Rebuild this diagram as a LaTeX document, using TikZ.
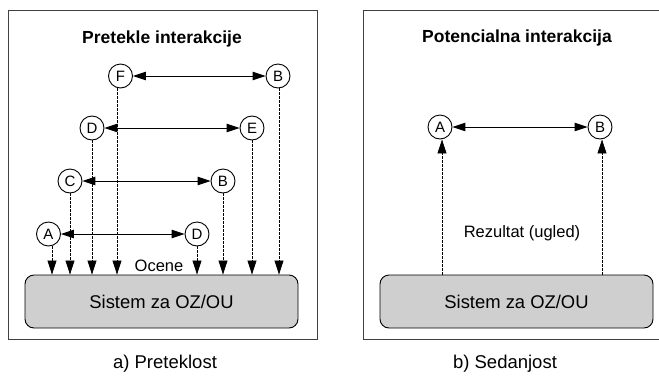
\documentclass[tikz,border=0pt]{standalone}
\usepackage{fontspec}
\setmainfont{Liberation Sans}
\usetikzlibrary{arrows.meta}
\begin{document}
\begin{tikzpicture}[x=1pt,y=-1pt,
  every node/.style={inner sep=0pt},
  agent/.style={circle,draw,line width=0.9pt,minimum size=24pt,fill=white,
    font=\fontsize{15}{15}\selectfont},
  link/.style={line width=1pt,
    {Triangle[length=13pt,width=8.5pt]}-{Triangle[length=13pt,width=8.5pt]}},
  rating/.style={dash pattern=on 2.5pt off 1.5pt,line width=0.75pt,
    -{Triangle[length=14pt,width=9pt]}},
  frame/.style={draw=black!75,line width=1pt},
  sysbox/.style={draw,line width=0.9pt,rounded corners=9pt,fill=black!19,
    minimum width=273pt,minimum height=53pt,
    font=\fontsize{18.4}{20}\selectfont},
  title/.style={anchor=base,font=\fontsize{17.5}{20}\selectfont\bfseries},
  caption/.style={anchor=base,font=\fontsize{18.5}{20}\selectfont},
  note/.style={anchor=base,font=\fontsize{16.5}{20}\selectfont}
]
\useasboundingbox (0,0) rectangle (659,376);
\clip (0,0) rectangle (659,376);

% ---------- a) past interactions ----------
\draw[frame] (8,10) rectangle (317,339);
\node[title] (tL) at (162,43) {Pretekle interakcije};
\node[sysbox] (sysL) at (161.5,301.5) {Sistem za OZ/OU};

\node[agent] (F)  at (120.5,76) {F};
\node[agent] (B1) at (278,76)   {B};
\node[agent] (D1) at (92,128)   {D};
\node[agent] (E)  at (252,128)  {E};
\node[agent] (C)  at (70,181)   {C};
\node[agent] (B2) at (223,181)  {B};
\node[agent] (A)  at (48.5,234) {A};
\node[agent] (D2) at (197,234)  {D};

\draw[link] (F)  -- (B1);
\draw[link] (D1) -- (E);
\draw[link] (C)  -- (B2);
\draw[link] (A)  -- (D2);

\draw[rating] ([xshift=3.5pt]A.south)  -- ([xshift=3.5pt]A.south |- sysL.north);
\draw[rating] (C.south)  -- (C.south |- sysL.north);
\draw[rating] (D1.south) -- (D1.south |- sysL.north);
\draw[rating] ([xshift=-3.5pt]F.south) -- ([xshift=-3.5pt]F.south |- sysL.north);
\draw[rating] (D2.south) -- (D2.south |- sysL.north);
\draw[rating] (B2.south) -- (B2.south |- sysL.north);
\draw[rating] (E.south)  -- (E.south |- sysL.north);
\draw[rating] ([xshift=1pt]B1.south) -- ([xshift=1pt]B1.south |- sysL.north);

\node[note] (oc) at (159,271) {Ocene};
\node[caption] (capL) at (165,368) {a) Preteklost};

% ---------- b) present ----------
\draw[frame] (363,10) rectangle (672,339);
\node[title] (tR) at (517,42) {Potencialna interakcija};
\node[sysbox] (sysR) at (516.5,301.5) {Sistem za OZ/OU};

\node[agent] (PA) at (440,127) {A};
\node[agent] (PB) at (600,127) {B};
\draw[link] (PA) -- (PB);

\draw[rating] ([xshift=2pt]PA.south |- sysR.north) -- ([xshift=2pt]PA.south);
\draw[rating] ([xshift=2pt]PB.south |- sysR.north) -- ([xshift=2pt]PB.south);

\node[note] (rez) at (522,237) {Rezultat (ugled)};
\node[caption] (capR) at (505,368) {b) Sedanjost};
\end{tikzpicture}
\end{document}
